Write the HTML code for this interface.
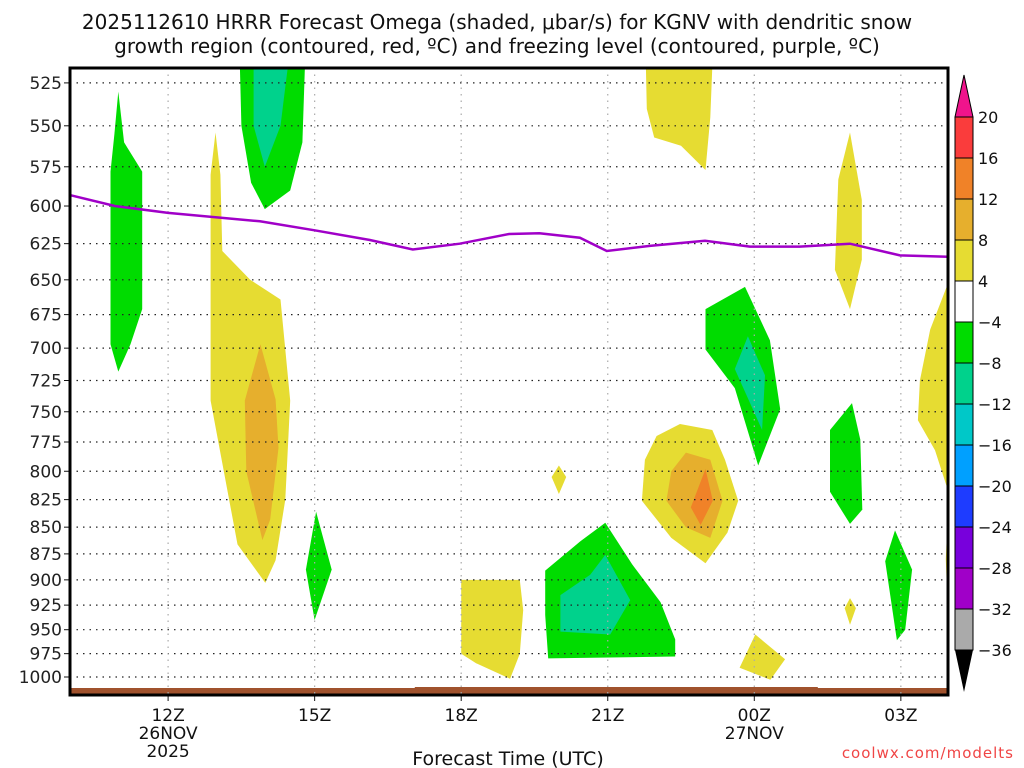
<!DOCTYPE html>
<html><head><meta charset="utf-8"><style>
html,body{margin:0;padding:0;background:#fff;}
svg{display:block;font-family:"DejaVu Sans","Liberation Sans",sans-serif;}
</style></head><body>
<svg id="chart" width="1024" height="768" viewBox="0 0 1024 768" xmlns="http://www.w3.org/2000/svg">
<text x="497" y="29" font-size="20" text-anchor="middle" fill="#111">2025112610 HRRR Forecast Omega (shaded, μbar/s) for KGNV with dendritic snow</text>
<text x="497" y="53" font-size="20" text-anchor="middle" fill="#111">growth region (contoured, red, ºC) and freezing level (contoured, purple, ºC)</text>
<g id="plot"></g>
<g id="axes"></g>
<g id="cbar"></g>
<text x="508" y="765" font-size="19" text-anchor="middle" fill="#111">Forecast Time (UTC)</text>
<text x="1014" y="758" font-size="15" text-anchor="end" fill="#f04545" letter-spacing="1">coolwx.com/modelts</text>
</svg>
<script>
// hours since 10Z 26NOV
const tickHours = [2,5,8,11,14,17];
const tickLabels = ["12Z","15Z","18Z","21Z","00Z","03Z"];
const pressureTicks = [525,550,575,600,625,650,675,700,725,750,775,800,825,850,875,900,925,950,975,1000];
const freezeT = [0,0.91,2,3.88,5,6.13,7.01,7.97,8.98,9.6,10.43,10.98,11.86,12.99,13.91,14.93,15.96,16.98,17.96];
const freezeP = [593,600,604.5,610,616,622.5,629,625,618.5,618,621,630,626.5,623,627,627,625,633,634];
const cbarLevels = ["20","16","12","8","4","−4","−8","−12","−16","−20","−24","−28","−32","−36"];
const cbarColors = ["#fa3c3c","#f08228","#e6af2d","#e6dc32","#ffffff","#00dc00","#00d28c","#00c8c8","#00a0ff","#1e3cff","#7800dc","#a000c8","#aaaaaa"];
// shaded regions: [t, p] polygons
const shadeGreen = [
 [[0.98,530],[1.1,560],[1.47,578],[1.47,671],[1.23,697],[0.98,718],[0.82,697],[0.82,578],[0.9,555]],
 [[3.47,516],[4.8,516],[4.75,560],[4.5,590],[3.98,602],[3.7,585],[3.5,550]],
 [[5.03,836],[5.35,890],[5.0,940],[4.82,890]],
 [[10.95,846],[11.5,885],[12.08,922],[12.38,960],[12.38,978],[9.78,980],[9.72,935],[9.72,891],[10.44,863]],
 [[13.81,655],[14.32,694],[14.53,748],[14.08,795],[13.6,731],[13.0,701],[13.0,671]],
 [[16.0,743],[16.17,773],[16.21,834],[15.96,847],[15.55,818],[15.55,765]],
 [[16.88,853],[17.23,890],[17.09,950],[16.92,961],[16.68,882]]
];
const shadeTeal = [
 [[3.75,516],[4.45,516],[4.3,550],[3.98,575],[3.75,550]],
 [[10.95,876],[11.46,920],[11.05,955],[10.03,952],[10.03,915],[10.64,895]],
 [[13.87,691],[14.22,721],[14.16,765],[13.6,716]]
];
const shadeYellow = [
 [[2.97,554],[3.07,580],[3.11,630],[3.68,650],[4.3,664],[4.5,741],[4.4,825],[4.2,881],[3.99,903],[3.42,866],[2.87,741],[2.87,580]],
 [[10.0,795],[10.15,805],[10.0,820],[9.85,805]],
 [[8.0,900],[9.2,900],[9.27,930],[9.2,975],[9.0,1002],[8.3,985],[8.0,975]],
 [[12.48,760],[13.14,765],[13.4,790],[13.67,826],[13.45,855],[13.0,884],[12.3,860],[11.7,826],[11.76,790],[12.0,770]],
 [[11.78,516],[13.14,516],[13.1,545],[13.0,577],[12.5,562],[11.95,557],[11.8,540]],
 [[14.02,955],[14.63,981],[14.33,1003],[13.7,990]],
 [[15.96,554],[16.2,596],[16.2,636],[15.96,671],[15.65,643],[15.72,583]],
 [[15.96,918],[16.08,928],[15.96,945],[15.85,928]],
 [[17.96,653],[17.6,686],[17.39,725],[17.35,757],[17.7,782],[17.96,816]],
 [[17.96,840],[17.92,880],[17.96,930]]
];
const shadeOrange = [
 [[3.89,697],[4.2,740],[4.26,780],[4.09,843],[3.93,862],[3.6,800],[3.57,741]],
 [[12.6,784],[13.1,790],[13.35,826],[13.1,860],[12.6,850],[12.2,826],[12.3,800]]
];
const shadeDarkOrange = [
 [[13.0,798],[13.15,826],[12.9,848],[12.7,832]]
];

const NS="http://www.w3.org/2000/svg";
const PL=70,PR=948,PT=68,PB=695;
const xS=t=>70.4+48.85*t;
const yS=p=>677-922*Math.log(1000/p);
const plotG=document.getElementById('plot'),axesG=document.getElementById('axes'),cbG=document.getElementById('cbar');
function mk(tag,attrs,parent){const e=document.createElementNS(NS,tag);for(const k in attrs)e.setAttribute(k,attrs[k]);parent.appendChild(e);return e;}

const defs=mk('defs',{},plotG);
const cp=mk('clipPath',{id:'clip'},defs);
mk('rect',{x:PL,y:PT,width:PR-PL,height:PB-PT},cp);
const g=mk('g',{'clip-path':'url(#clip)'},plotG);

function drawSet(set,color,name){
 set.forEach((poly,i)=>{
  const e=mk('polygon',{points:poly.map(q=>xS(q[0]).toFixed(1)+','+yS(q[1]).toFixed(1)).join(' '),fill:color},g);
  
  
 });
}
drawSet(shadeYellow,'#e6dc32','omega-yellow-region');
drawSet(shadeOrange,'#e6af2d','omega-orange-region');
drawSet(shadeDarkOrange,'#f08228','omega-darkorange-region');
drawSet(shadeGreen,'#00dc00','omega-green-region');
drawSet(shadeTeal,'#00d28c','omega-teal-region');

// ground
const gr=mk('path',{d:`M${PL} 688 L${xS(7.05)} 688 L${xS(7.05)} 687 L${xS(15.3)} 687 L${xS(15.3)} 688 L${PR} 688 L${PR} ${PB} L${PL} ${PB} Z`,fill:'#a0522d'},g);



// grid
pressureTicks.forEach(p=>{
 const y=yS(p);
 const ln=mk('line',{x1:PL,x2:PR,y1:y,y2:y,stroke:'#222','stroke-width':1.2,'stroke-dasharray':'1.5 5'},axesG);
 
 
 mk('line',{x1:PL-6,x2:PL,y1:y,y2:y,stroke:'#111'},axesG);
 const tx=mk('text',{x:PL-8,y:y+6,'font-size':17,'text-anchor':'end',fill:'#222'},axesG);
 tx.textContent=p;
 
 
});
tickHours.forEach((h,i)=>{
 const x=xS(h);
 const ln=mk('line',{x1:x,x2:x,y1:PT,y2:PB,stroke:'#aaa','stroke-width':1.2,'stroke-dasharray':'1.5 5'},axesG);
 
 
 mk('line',{x1:x,x2:x,y1:PB,y2:PB+6,stroke:'#111'},axesG);
 const tx=mk('text',{x:x,y:721,'font-size':17,'text-anchor':'middle',fill:'#111'},axesG);
 tx.textContent=tickLabels[i];
 
 
});
[[2,'26NOV',739],[2,'2025',757],[14,'27NOV',739]].forEach(d=>{
 const tx=mk('text',{x:xS(d[0]),y:d[2],'font-size':17,'text-anchor':'middle',fill:'#111'},axesG);
 tx.textContent=d[1];
 
 
});

// freezing level
const fl=mk('polyline',{points:freezeT.map((t,i)=>xS(t).toFixed(1)+','+yS(freezeP[i]).toFixed(1)).join(' '),fill:'none',stroke:'#a000c8','stroke-width':2.5},axesG);



const fr=mk('rect',{x:PL,y:PT,width:PR-PL,height:PB-PT,fill:'none',stroke:'#000','stroke-width':3},axesG);



// colorbar
const cbx=955,cbw=18,cbTop=117,cbStep=41;
const tu=mk('polygon',{points:`${cbx},${cbTop} ${cbx+cbw},${cbTop} ${cbx+cbw/2},${cbTop-42}`,fill:'#f0148c',stroke:'#000','stroke-width':1},cbG);


cbarColors.forEach((c,i)=>{
 const r=mk('rect',{x:cbx,y:cbTop+i*cbStep,width:cbw,height:cbStep,fill:c,stroke:'#000','stroke-width':1},cbG);
 
 
});
const cbBot=cbTop+cbarColors.length*cbStep;
const td=mk('polygon',{points:`${cbx},${cbBot} ${cbx+cbw},${cbBot} ${cbx+cbw/2},${cbBot+42}`,fill:'#000'},cbG);


cbarLevels.forEach((l,i)=>{
 const tx=mk('text',{x:978,y:cbTop+i*cbStep+6,'font-size':16,fill:'#111'},cbG);
 tx.textContent=l;
 
 
});
</script>
</body></html>
